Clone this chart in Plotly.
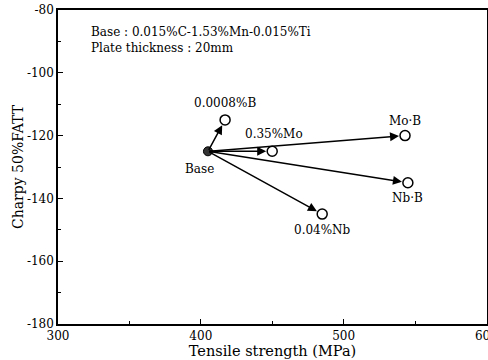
import plotly.graph_objects as go

base_x, base_y = 405, -125
labels = ["0.0008%B", "0.35%Mo", "Mo·B", "Nb·B", "0.04%Nb"]
ts = [417, 450, 543, 545, 485]
fatt = [-115, -125, -120, -135, -145]
# label offsets in pixels (dx, dy)
label_pos = [(0, -17), (2, -17), (0, -15), (0, 15), (0, 16)]

x_ticks = [300, 400, 500, 600]
y_ticks = [-80, -100, -120, -140, -160, -180]

font = "DejaVu Serif"
fig = go.Figure()

fig.add_trace(go.Scatter(x=ts, y=fatt, mode="markers",
                         marker=dict(size=10, color="white", line=dict(color="black", width=1.5)),
                         showlegend=False, cliponaxis=False))
fig.add_trace(go.Scatter(x=[base_x], y=[base_y], mode="markers",
                         marker=dict(size=9, color="#333", line=dict(color="black", width=1)),
                         showlegend=False))

for lab, x, y, (dx, dy) in zip(labels, ts, fatt, label_pos):
    fig.add_annotation(x=x, y=y, ax=base_x, ay=base_y, axref="x", ayref="y",
                       xref="x", yref="y", text="", showarrow=True,
                       arrowhead=2, arrowsize=1.2, arrowwidth=1.5, arrowcolor="black",
                       standoff=6, startstandoff=0)
    fig.add_annotation(x=x, y=y, text=lab, showarrow=False, xshift=dx, yshift=-dy,
                       font=dict(family=font, size=12, color="black"))

fig.add_annotation(x=base_x, y=base_y, text="Base", showarrow=False, xshift=-8, yshift=-18,
                   font=dict(family=font, size=12, color="black"))

fig.add_annotation(xref="paper", yref="paper", x=0.072, y=0.96, xanchor="left", yanchor="top",
                   text="Base : 0.015%C-1.53%Mn-0.015%Ti<br>Plate thickness : 20mm",
                   showarrow=False, align="left",
                   font=dict(family=font, size=12, color="black"))

fig.update_xaxes(range=[300, 600.4], tickvals=x_ticks, ticktext=[str(v) for v in x_ticks],
                 ticks="inside", ticklen=5, tickwidth=1, tickcolor="black",
                 minor=dict(dtick=50, ticks="inside", ticklen=3, tickcolor="black"),
                 showline=True, linecolor="black", linewidth=1.5, mirror=True,
                 showgrid=False, zeroline=False, automargin=False,
                 ticklabeloverflow="allow",
                 title=dict(text="Tensile strength (MPa)", standoff=2,
                            font=dict(family=font, size=14.5, color="black")),
                 tickfont=dict(family=font, size=12, color="black"))
fig.update_yaxes(range=[-180, -80], tickvals=y_ticks, ticktext=[str(v) for v in y_ticks],
                 ticks="inside", ticklen=5, tickwidth=1, tickcolor="black",
                 minor=dict(dtick=10, ticks="inside", ticklen=3, tickcolor="black"),
                 showline=True, linecolor="black", linewidth=1.5, mirror=True,
                 showgrid=False, zeroline=False, automargin=False,
                 ticklabeloverflow="allow",
                 title=dict(text="Charpy 50%FATT", standoff=0,
                            font=dict(family=font, size=14, color="black")),
                 tickfont=dict(family=font, size=12, color="black"))

fig.update_layout(width=488, height=360, plot_bgcolor="white", paper_bgcolor="white",
                  margin=dict(l=58, r=1, t=10, b=36))

fig.write_html("out.html", config={"displayModeBar": False},
               post_script="document.body.style.margin='0';")
